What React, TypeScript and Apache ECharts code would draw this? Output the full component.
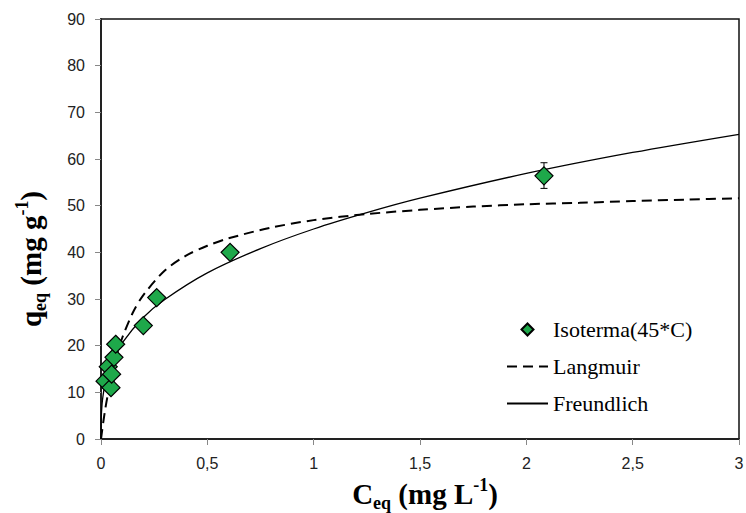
import React, { useEffect, useRef } from "react";
import * as echarts from "echarts";

const isoC = [0.019, 0.034, 0.047, 0.05, 0.061, 0.069, 0.199, 0.262, 0.607, 2.083];
const isoQ = [12.4, 15.5, 11.0, 13.9, 17.5, 20.3, 24.3, 30.3, 40.0, 56.4];
const errC = [2.083];
const errLow = [53.7];
const errHigh = [59.2];

const langC = [0, 0.01, 0.02, 0.03, 0.05, 0.075, 0.1, 0.15, 0.2, 0.3, 0.4, 0.5, 0.6, 0.8, 1.0, 1.25, 1.5, 1.75, 2.0, 2.25, 2.5, 2.75, 3.0];
const langQ = [0, 3.4, 6.4, 9.0, 13.6, 18.1, 21.7, 27.1, 30.9, 36.1, 39.3, 41.4, 43.0, 45.3, 46.9, 48.2, 49.1, 49.8, 50.3, 50.6, 51.0, 51.3, 51.6];

const freuC = [0, 0.001, 0.005, 0.01, 0.02, 0.05, 0.1, 0.2, 0.3, 0.5, 0.75, 1.0, 1.25, 1.5, 2.0, 2.5, 3.0];
const freuQ = [0, 4.3, 7.5, 9.4, 12.0, 16.3, 20.6, 26.1, 29.9, 35.6, 40.8, 45.0, 48.5, 51.6, 56.9, 61.4, 65.3];

const xTicks = ["0", "0,5", "1", "1,5", "2", "2,5", "3"];

const serif = "Liberation Serif";
const sans = "Liberation Sans";

export default function App() {
  const ref = useRef<HTMLDivElement>(null);
  useEffect(() => {
    if (!ref.current) return;
    const chart = echarts.init(ref.current, null, { renderer: "svg" });
    const titleRich = {
      m: { fontSize: 29, fontWeight: "bold", fontFamily: serif, color: "#000", lineHeight: 36, verticalAlign: "middle" },
      s: { fontSize: 18, fontWeight: "bold", fontFamily: serif, color: "#000", lineHeight: 18, verticalAlign: "bottom" },
      p: { fontSize: 18, fontWeight: "bold", fontFamily: serif, color: "#000", lineHeight: 18, verticalAlign: "top" },
    };
    chart.setOption({
      animation: false,
      backgroundColor: "#fff",
      grid: { left: 101, right: 7, top: 19, bottom: 74, show: true, borderColor: "#111", borderWidth: 1.5, outerBoundsMode: "none", containLabel: false },
      xAxis: {
        type: "value",
        min: 0,
        max: 3,
        interval: 0.5,
        splitLine: { show: false },
        axisLine: { lineStyle: { color: "#222", width: 2 } },
        axisTick: { show: true, length: 6, lineStyle: { color: "#888" } },
        axisLabel: {
          fontFamily: sans,
          fontSize: 16,
          color: "#222",
          margin: 16,
          formatter: (v: number) => xTicks[Math.round(v * 2)] ?? "",
        },
        name: "{m|C}{s|eq}{m| (mg L}{p|-1}{m|)}",
        nameLocation: "middle",
        nameGap: 36,
        nameTextStyle: { rich: titleRich, fontFamily: serif, fontWeight: "bold", fontSize: 29, padding: [0, 0, 0, 10] },
      },
      yAxis: {
        type: "value",
        min: 0,
        max: 90,
        interval: 10,
        splitLine: { show: false },
        axisLine: { show: true, lineStyle: { color: "#222", width: 2 } },
        axisTick: { show: true, length: 6, lineStyle: { color: "#888" } },
        axisLabel: { fontFamily: sans, fontSize: 16, color: "#222", margin: 16 },
        name: "{m|q}{s|eq}{m| (mg g}{p|-1}{m|)}",
        nameLocation: "middle",
        nameGap: 52,
        nameRotate: 90,
        nameTextStyle: { rich: titleRich, fontFamily: serif, fontWeight: "bold", fontSize: 29, padding: [0, 60, 0, 0] },
      },
      legend: {
        data: [
          { name: "Isoterma(45*C)", icon: "path://M0,6L6,0L12,6L6,12Z" },
          { name: "Langmuir", itemStyle: { opacity: 0 } },
          { name: "Freundlich", itemStyle: { opacity: 0 } },
        ],
        orient: "vertical",
        left: 501,
        top: 313,
        itemWidth: 41,
        itemHeight: 12,
        itemGap: 14,
        symbolKeepAspect: true,
        textStyle: { fontFamily: serif, fontSize: 22, color: "#000", lineHeight: 23 },
      },
      series: [
        {
          name: "Langmuir",
          type: "line",
          data: langC.map((c, i) => [c, langQ[i]]),
          smooth: 0.3,
          showSymbol: false,
          symbol: "none",
          lineStyle: { color: "#000", width: 2, type: [10, 6] },
          itemStyle: { color: "#000" },
          z: 2,
        },
        {
          name: "Freundlich",
          type: "line",
          data: freuC.map((c, i) => [c, freuQ[i]]),
          smooth: 0.3,
          showSymbol: false,
          symbol: "none",
          lineStyle: { color: "#000", width: 1.3 },
          itemStyle: { color: "#000" },
          z: 2,
        },
        {
          name: "err",
          type: "custom",
          data: errC.map((c, i) => [c, errLow[i], errHigh[i]]),
          renderItem: (params: any, api: any) => {
            const lo = api.coord([api.value(0), api.value(1)]);
            const hi = api.coord([api.value(0), api.value(2)]);
            const w = 3.5;
            return {
              type: "group",
              children: [
                { type: "line", shape: { x1: lo[0], y1: lo[1], x2: hi[0], y2: hi[1] }, style: { stroke: "#000", lineWidth: 1 } },
                { type: "line", shape: { x1: lo[0] - w, y1: lo[1], x2: lo[0] + w, y2: lo[1] }, style: { stroke: "#000", lineWidth: 1 } },
                { type: "line", shape: { x1: hi[0] - w, y1: hi[1], x2: hi[0] + w, y2: hi[1] }, style: { stroke: "#000", lineWidth: 1 } },
              ],
            };
          },
          z: 3,
        },
        {
          name: "Isoterma(45*C)",
          type: "scatter",
          data: isoC.map((c, i) => [c, isoQ[i]]),
          symbol: "diamond",
          symbolSize: 18,
          itemStyle: { color: "#1ea84a", borderColor: "#000", borderWidth: 1.2, opacity: 1 },
          z: 4,
        },
      ],
    });
    return () => chart.dispose();
  }, []);
  return <div ref={ref} style={{ width: 746, height: 513, position: "absolute", left: 0, top: 0 }} />;
}
